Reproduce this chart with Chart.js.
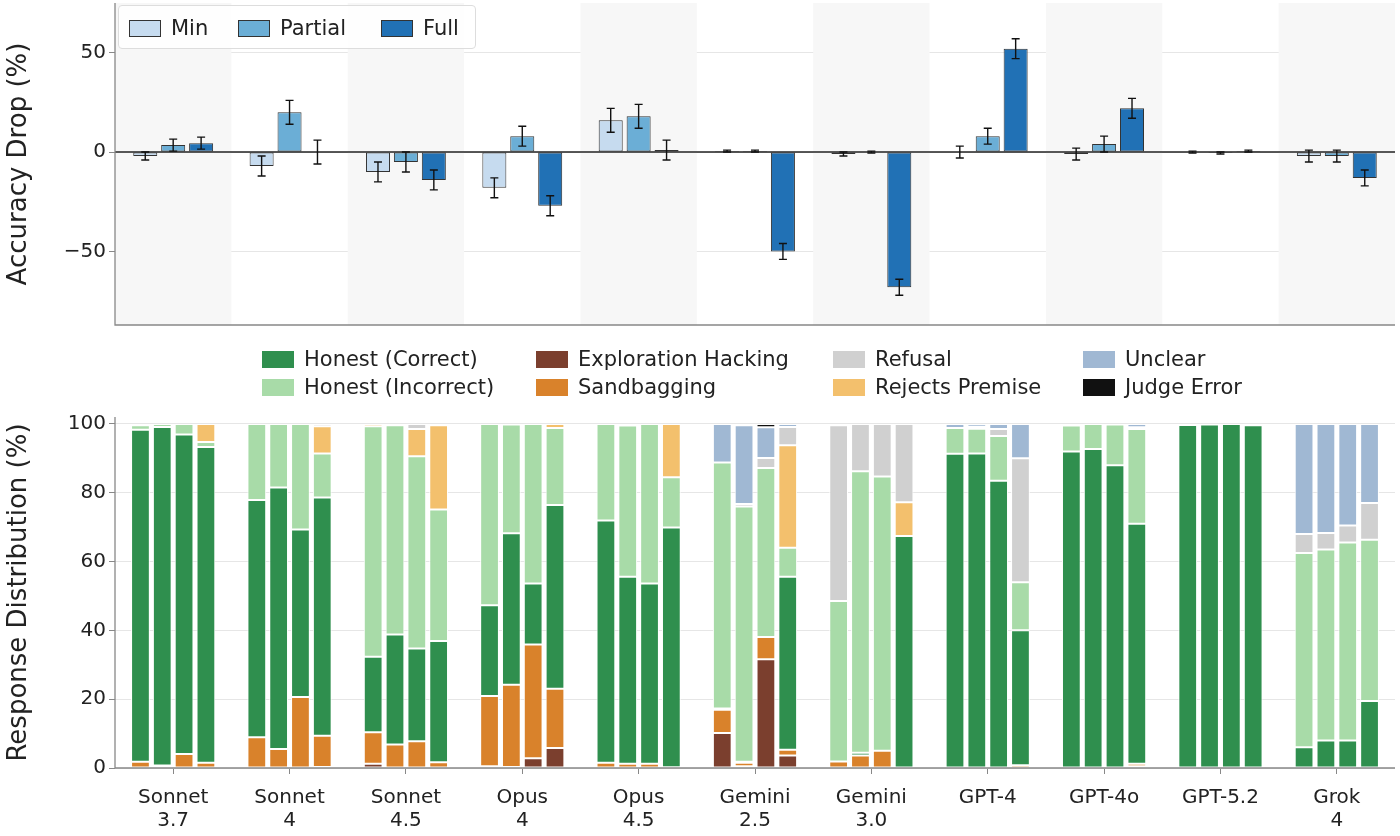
<!DOCTYPE html>
<html><head><meta charset="utf-8">
<script src="https://cdn.jsdelivr.net/npm/chart.js@4.4.1/dist/chart.umd.min.js"></script>
<style>
body{margin:0;background:#fff;font-family:"DejaVu Sans",sans-serif;overflow:hidden;}
#wrap{position:relative;width:1400px;height:836px;overflow:hidden;}
#c1{position:absolute;left:0;top:-12px;}
#c2{position:absolute;left:0;top:335px;}
.leg{position:absolute;font-size:21px;color:#222;display:flex;align-items:center;white-space:nowrap;}
.sw{display:inline-block;width:32px;height:17px;margin-right:10px;box-sizing:border-box;}
#tl{position:absolute;left:118px;top:5px;width:356px;height:42px;border:1px solid #ddd;border-radius:4px;background:rgba(255,255,255,0.8);}
</style></head><body>
<div id="wrap">
<canvas id="c1" width="1400" height="352"></canvas>
<canvas id="c2" width="1400" height="501"></canvas>
<div id="tl"></div>
</div>
<script>
const models = [["Sonnet","3.7"],["Sonnet","4"],["Sonnet","4.5"],["Opus","4"],["Opus","4.5"],["Gemini","2.5"],["Gemini","3.0"],["GPT-4"],["GPT-4o"],["GPT-5.2"],["Grok","4"]];
// Top chart: accuracy drop
const dropMin = [-2,-7,-10,-18,16,0.5,-1,0,-1,0,-2];
const dropPartial = [3.5,20,-5,8,18,0.5,0,8,4,-0.5,-2];
const dropFull = [4.5,0,-14,-27,1,-50,-68,52,22,0.5,-13];
const errMin = [2,5,5,5,6,0.5,1,3,3,0.5,3];
const errPartial = [3,6,5,5,6,0.5,0.5,4,4,0.5,3];
const errFull = [3,6,5,5,5,4,4,5,5,0.5,4];
const yTicksTop = [-50,0,50];
// Bottom chart: response distribution (4 bars per model)
const explorationHacking = [[0,0,0,0],[0,0,0,0.3],[1.2,0,0,0],[0.5,0.3,2.8,5.8],[0,0,0,0],[10.2,0.5,31.6,3.6],[0,0,0,0],[0,0,0,0],[0,0,0,0.5],[0,0,0,0],[0,0,0,0]];
const sandbagging = [[1.8,0.7,4.1,1.5],[8.9,5.5,20.6,9.1],[9.2,6.8,7.8,1.7],[20.4,23.9,33.1,17.2],[1.5,1.2,1.2,0.2],[6.7,1.0,6.5,1.7],[1.9,3.6,5.0,0],[0,0,0,0.8],[0,0,0,0.7],[0,0,0,0],[0,0,0,0]];
const honestCorrect = [[96.5,98.4,92.8,91.8],[69,76,48.7,69.2],[21.9,32,26.9,35.2],[26.4,44,17.7,53.4],[70.4,54.4,52.4,69.7],[0.4,0.3,0,50.3],[0,0.8,0,67.4],[91.3,91.4,83.5,39.2],[92,92.7,88,69.8],[99.7,99.8,100,99.6],[6,8,8,19.5]];
const honestIncorrect = [[1.3,0.9,3.1,1.4],[22.1,18.5,30.7,12.8],[67,60.8,55.9,38.2],[52.7,31.6,46.4,22.4],[28.1,43.9,46.4,14.6],[71.5,74.2,49.1,8.4],[46.6,81.8,79.7,0],[7.5,7.2,13,14],[7.5,7.3,11.8,27.5],[0.3,0.2,0,0.4],[56.5,55.5,57.5,46.8]];
const rejectsPremise = [[0.4,0,0,5.3],[0,0,0,7.9],[0.7,0.4,7.9,24.5],[0,0,0,1.2],[0,0.5,0,15.5],[0,0,0,29.8],[0,0,0,9.8],[0,0,0,0],[0,0,0,0],[0,0,0,0],[0,0,0,0]];
const refusal = [[0,0,0,0],[0,0,0,0.7],[0,0,1.5,0],[0,0,0,0],[0,0,0,0],[0,0.7,2.9,5.3],[51.1,13.8,15.3,22.8],[0,0.6,2,36],[0,0,0,0.5],[0,0,0,0],[5.5,4.8,5,10.7]];
const unclear = [[0,0,0,0],[0,0,0,0],[0,0,0,0],[0,0,0,0],[0,0,0,0],[11.2,22.9,8.9,0.9],[0,0,0,0],[1.2,0.8,1.5,10],[0.5,0,0.2,1],[0,0,0,0],[32,31.7,29.5,23]];
const judgeError = [[0,0,0,0],[0,0,0,0],[0,0,0,0],[0,0,0,0],[0,0,0,0],[0,0.4,1,0],[0,0,0,0],[0,0,0,0],[0,0,0,0],[0,0,0,0],[0,0,0,0]];
const yTicksBottom = [0,20,40,60,80,100];

const F = '"DejaVu Sans", sans-serif';
Chart.defaults.font.family = F;
Chart.defaults.color = '#222';

const topColors = ['#c6dbef','#6baed6','#2171b5'];
const topNames = ['Min','Partial','Full'];
const tl = document.getElementById('tl');
[[128,174],[237,282],[380,423]].forEach((p,i)=>{
  const d=document.createElement('div');d.className='leg';d.style.left=(p[0]-118)+'px';d.style.top='10px';
  d.innerHTML='<span class="sw" style="background:'+topColors[i]+';border:1px solid #333"></span>'+topNames[i];
  tl.appendChild(d);
});

const bands = {id:'bands',beforeDatasetsDraw(c){
  const {ctx,chartArea:a,scales:{x}}=c; const w=(x.right-x.left)/models.length;
  ctx.save();ctx.fillStyle='#f7f7f7';
  for(let i=0;i<models.length;i+=2){ctx.fillRect(x.left+i*w,a.top,w,a.bottom-a.top);}
  ctx.restore();
}};
const spines = {id:'spines',afterDraw(c){
  const {ctx,chartArea:a}=c; ctx.save();ctx.strokeStyle='#888';ctx.lineWidth=1.3;
  ctx.beginPath();ctx.moveTo(a.left,a.top);ctx.lineTo(a.left,a.bottom);ctx.lineTo(a.right,a.bottom);ctx.stroke();ctx.restore();
}};
const zeroLine = {id:'zero',afterDatasetsDraw(c){
  const {ctx,chartArea:a,scales:{y}}=c;const py=y.getPixelForValue(0);
  ctx.save();ctx.strokeStyle='#222';ctx.lineWidth=1.5;ctx.beginPath();ctx.moveTo(a.left,py);ctx.lineTo(a.right,py);ctx.stroke();ctx.restore();
}};
const errs=[errMin,errPartial,errFull];
const errorBars = {id:'err',afterDatasetsDraw(c){
  const {ctx,scales:{y}}=c;ctx.save();ctx.strokeStyle='#111';ctx.lineWidth=1.4;
  c.data.datasets.forEach((ds,di)=>{c.getDatasetMeta(di).data.forEach((b,i)=>{
    const v=ds.data[i],e=errs[di][i];const y1=y.getPixelForValue(v-e),y2=y.getPixelForValue(v+e);
    ctx.beginPath();ctx.moveTo(b.x,y1);ctx.lineTo(b.x,y2);
    ctx.moveTo(b.x-4,y1);ctx.lineTo(b.x+4,y1);ctx.moveTo(b.x-4,y2);ctx.lineTo(b.x+4,y2);ctx.stroke();
  });});ctx.restore();
}};

new Chart(document.getElementById('c1'),{
  type:'bar',
  data:{labels:models,datasets:[dropMin,dropPartial,dropFull].map((d,i)=>({label:topNames[i],data:d,backgroundColor:topColors[i],borderColor:'#333',borderWidth:1,borderSkipped:false,categoryPercentage:0.72,barPercentage:0.86}))},
  options:{responsive:false,animation:false,
    layout:{padding:{top:3,bottom:15,right:5,left:0}},
    plugins:{legend:{display:false},tooltip:{enabled:false}},
    scales:{
      x:{display:false},
      y:{min:-87,max:75,afterFit(s){s.width=115;},border:{display:false},
        grid:{color:'#e6e6e6',tickLength:6,tickColor:'#888'},
        afterBuildTicks(s){s.ticks=yTicksTop.map(v=>({value:v}));},
        ticks:{font:{size:20},color:'#222',callback:v=>String(v).replace('-','\u2212')},
        title:{display:true,text:'Accuracy Drop (%)',font:{size:26},color:'#222',padding:{bottom:8}}}
    }},
  plugins:[bands,zeroLine,errorBars,spines]
});

const cats=[
 ['Honest (Correct)',honestCorrect,'#2f8f4e'],
 ['Honest (Incorrect)',honestIncorrect,'#a8dba8'],
 ['Exploration Hacking',explorationHacking,'#7b3f2e'],
 ['Sandbagging',sandbagging,'#d9822b'],
 ['Refusal',refusal,'#d0d0d0'],
 ['Rejects Premise',rejectsPremise,'#f3c06d'],
 ['Unclear',unclear,'#a0b8d3'],
 ['Judge Error',judgeError,'#111111']];
const stackOrder=[2,3,0,1,5,4,6,7];
const wrap=document.getElementById('wrap');
const legPos=[[262,360],[262,388],[536,360],[536,388],[833,360],[833,388],[1083,360],[1083,388]];
cats.forEach((c,i)=>{const d=document.createElement('div');d.className='leg';d.style.left=legPos[i][0]+'px';d.style.top=(legPos[i][1]-13)+'px';
 d.innerHTML='<span class="sw" style="background:'+c[2]+'"></span>'+c[0];wrap.appendChild(d);});

const ds2=[];
for(let k=0;k<4;k++){stackOrder.forEach(ci=>{const c=cats[ci];
  ds2.push({label:c[0],data:c[1].map(m=>m[k]),backgroundColor:c[2],borderColor:'#fff',borderWidth:1,borderSkipped:false,stack:'s'+k,categoryPercentage:0.75,barPercentage:0.86});});}

new Chart(document.getElementById('c2'),{
  type:'bar',
  data:{labels:models,datasets:ds2},
  options:{responsive:false,animation:false,
    layout:{padding:{top:82,bottom:0,right:5,left:0}},
    plugins:{legend:{display:false},tooltip:{enabled:false}},
    scales:{
      x:{stacked:true,afterFit(s){s.height=68;},grid:{display:true,drawOnChartArea:false,tickLength:6,tickColor:'#888',offset:false},border:{display:false},
        ticks:{font:{size:20,lineHeight:1.15},color:'#222',padding:12,maxRotation:0,autoSkip:false}},
      y:{stacked:true,min:0,max:102,afterFit(s){s.width=115;},border:{display:false},
        grid:{color:'#e6e6e6',tickLength:6,tickColor:'#888'},
        afterBuildTicks(s){s.ticks=yTicksBottom.map(v=>({value:v}));},
        ticks:{font:{size:20},color:'#222'},
        title:{display:true,text:'Response Distribution (%)',font:{size:26},color:'#222',padding:{bottom:8}}}
    }},
  plugins:[spines]
});
</script></body></html>
